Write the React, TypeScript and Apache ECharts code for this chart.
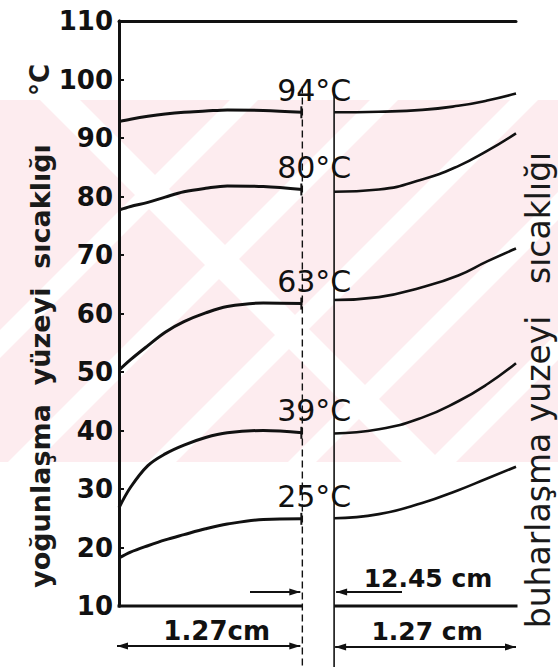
import React, { useEffect, useRef } from "react";
import * as echarts from "echarts";

// ---- data ----
const Y_MIN = 10;
const Y_MAX = 110;
const Y_STEP = 10;
const X_MAX = 2.75; // cm across the whole drawing
const WALL_LEFT = 1.27; // condensation surface (cm)
const WALL_RIGHT = 1.49; // evaporation surface (cm)

const wallLabels = ["94°C", "80°C", "63°C", "39°C", "25°C"];

const leftX = [0, 0.08, 0.2, 0.32, 0.45, 0.6, 0.75, 1.0, 1.27];
const left94 = [92.8, 93.2, 93.7, 94.1, 94.4, 94.6, 94.8, 94.7, 94.4];
const left80 = [77.7, 78.3, 79.0, 79.9, 80.8, 81.4, 81.8, 81.7, 81.2];
const left63 = [50.3, 52.1, 54.5, 56.8, 58.6, 60.1, 61.2, 61.8, 61.7];
const left39 = [26.8, 30.3, 34.0, 36.0, 37.5, 38.8, 39.6, 40.0, 39.6];
const left25 = [18.2, 19.2, 20.3, 21.3, 22.2, 23.2, 24.0, 24.8, 24.9];

const rightX = [1.49, 1.8, 2.1, 2.35, 2.55, 2.75];
const right94 = [94.4, 94.5, 94.8, 95.5, 96.4, 97.6];
const right80 = [80.8, 81.2, 82.9, 85.2, 87.8, 90.8];
const right63 = [62.3, 62.8, 64.5, 66.5, 68.9, 71.1];
const right39 = [39.5, 40.2, 42.2, 45.0, 47.9, 51.5];
const right25 = [25.0, 25.7, 27.6, 29.8, 31.8, 33.8];

const leftSeries = [left94, left80, left63, left39, left25];
const rightSeries = [right94, right80, right63, right39, right25];

const yAxisTitle = "yoğunlaşma  yüzeyi  sıcaklığı";
const yAxisUnit = "°C";
const rightTitle = "buharlaşma yuzeyi   sıcaklığı";
const widthLabelLeft = "1.27cm";
const widthLabelRight = "1.27 cm";
const lengthLabel = "12.45 cm";

const INK = "#111111";
const PINK = "#fdecef";
const FONT = "DejaVu Sans";

type Pt = [number, number];

function clipPoly(pts: Pt[], x0: number, y0: number, x1: number, y1: number): Pt[] {
  const edges: Array<[(p: Pt) => boolean, (a: Pt, b: Pt) => Pt]> = [
    [(p) => p[0] >= x0, (a, b) => { const t = (x0 - a[0]) / (b[0] - a[0]); return [x0, a[1] + t * (b[1] - a[1])]; }],
    [(p) => p[0] <= x1, (a, b) => { const t = (x1 - a[0]) / (b[0] - a[0]); return [x1, a[1] + t * (b[1] - a[1])]; }],
    [(p) => p[1] >= y0, (a, b) => { const t = (y0 - a[1]) / (b[1] - a[1]); return [a[0] + t * (b[0] - a[0]), y0]; }],
    [(p) => p[1] <= y1, (a, b) => { const t = (y1 - a[1]) / (b[1] - a[1]); return [a[0] + t * (b[0] - a[0]), y1]; }],
  ];
  let out = pts;
  for (const [inside, inter] of edges) {
    const input = out;
    out = [];
    for (let i = 0; i < input.length; i++) {
      const cur = input[i];
      const prev = input[(i + input.length - 1) % input.length];
      if (inside(cur)) {
        if (!inside(prev)) out.push(inter(prev, cur));
        out.push(cur);
      } else if (inside(prev)) {
        out.push(inter(prev, cur));
      }
    }
  }
  return out;
}

function band(c: number, w: number, dir: 1 | -1): Pt[] {
  if (dir === 1) {
    return [[c + 1000, -1000], [c - 2000, 2000], [c + w - 2000, 2000], [c + w + 1000, -1000]];
  }
  return [[c - 1000, -1000], [c + 2000, 2000], [c + w + 2000, 2000], [c + w - 1000, -1000]];
}

function arrowHead(x: number, y: number, dir: number, z = 20) {
  return {
    type: "polygon",
    z,
    shape: { points: [[x, y], [x - dir * 11, y - 3.5], [x - dir * 11, y + 3.5]] },
    style: { fill: INK },
  };
}

export default function App() {
  const ref = useRef<HTMLDivElement>(null);

  useEffect(() => {
    if (!ref.current) return;
    const chart = echarts.init(ref.current, undefined, { renderer: "svg" });

    const series: any[] = [];
    leftSeries.forEach((vals, k) => {
      series.push({
        type: "line",
        name: wallLabels[k] + " L",
        data: leftX.map((x, i) => [x, vals[i]]),
        smooth: 0.35,
        showSymbol: false,
        lineStyle: { color: INK, width: 3 },
        z: 5,
      });
    });
    rightSeries.forEach((vals, k) => {
      series.push({
        type: "line",
        name: wallLabels[k] + " R",
        data: rightX.map((x, i) => [x, vals[i]]),
        smooth: 0.5,
        showSymbol: false,
        lineStyle: { color: INK, width: 2.6 },
        z: 5,
      });
    });

    chart.setOption({
      animation: false,
      grid: { left: 119, right: 42, top: 21, bottom: 61 },
      xAxis: [
        {
          type: "value", min: 0, max: X_MAX, position: "bottom",
          axisLine: { show: false }, axisTick: { show: false }, axisLabel: { show: false }, splitLine: { show: false },
        },
        {
          type: "value", min: 0, max: X_MAX, position: "top",
          axisLine: { show: true, lineStyle: { color: INK, width: 3 } },
          axisTick: { show: false }, axisLabel: { show: false }, splitLine: { show: false },
        },
      ],
      yAxis: [
        {
          type: "value", min: Y_MIN, max: Y_MAX, interval: Y_STEP, position: "left",
          axisLine: { show: true, lineStyle: { color: INK, width: 3 } },
          axisTick: { show: true, inside: true, length: 5, lineStyle: { color: INK, width: 2 } },
          axisLabel: { color: INK, fontFamily: FONT, fontWeight: "bold", fontSize: 26, margin: 6 },
          splitLine: { show: false },
        },
        {
          type: "value", min: Y_MIN, max: Y_MAX, position: "right",
          axisLine: { show: true, lineStyle: { color: INK, width: 3 } },
          axisTick: { show: false }, axisLabel: { show: false }, splitLine: { show: false },
        },
      ],
      series,
    });

    const P = (x: number, y: number): Pt => chart.convertToPixel({ gridIndex: 0 }, [x, y]) as Pt;

    const g: any[] = [];

    // faint pink watermark of the scan
    const wmTop = 100;
    const wmBottom = 462;
    g.push({ type: "rect", z: -20, shape: { x: 0, y: wmTop, width: 558, height: wmBottom - wmTop }, style: { fill: PINK } });
    const whiteBands: Array<[number, number, 1 | -1]> = [
      [330, 28, 1], [470, 28, 1], [610, 28, 1], [750, 28, 1], [890, 28, 1],
      [-60, 40, -1],
    ];
    whiteBands.forEach(([c, w, d]) => {
      const pts = clipPoly(band(c, w, d), 0, wmTop, 558, wmBottom);
      if (pts.length > 2) g.push({ type: "polygon", z: -19, shape: { points: pts }, style: { fill: "#ffffff" } });
    });

    // bottom frame (interrupted by the wall)
    const bl0 = P(0, Y_MIN), bl1 = P(WALL_LEFT, Y_MIN);
    const br0 = P(WALL_RIGHT, Y_MIN), br1 = P(X_MAX, Y_MIN);
    g.push({ type: "line", z: 10, shape: { x1: bl0[0] - 1.5, y1: bl0[1], x2: bl1[0], y2: bl1[1] }, style: { stroke: INK, lineWidth: 3 } });
    g.push({ type: "line", z: 10, shape: { x1: br0[0], y1: br0[1], x2: br1[0] + 1.5, y2: br1[1] }, style: { stroke: INK, lineWidth: 3 } });

    // wall lines
    const wl = P(WALL_LEFT, 98.8);
    const wr = P(WALL_RIGHT, 98.8);
    g.push({ type: "line", z: 10, shape: { x1: wl[0], y1: wl[1], x2: wl[0], y2: 667 }, style: { stroke: INK, lineWidth: 1.4, lineDash: [7, 4] } });
    g.push({ type: "line", z: 10, shape: { x1: wr[0], y1: wr[1], x2: wr[0], y2: 667 }, style: { stroke: INK, lineWidth: 1.6 } });

    // small bars at the left curve ends + wall temperature labels
    const cx = (P(WALL_LEFT, 0)[0] + P(WALL_RIGHT, 0)[0]) / 2 - 4;
    leftSeries.forEach((vals, k) => {
      const e = P(WALL_LEFT, vals[vals.length - 1]);
      g.push({ type: "line", z: 11, shape: { x1: e[0] - 1, y1: e[1] - 6, x2: e[0] - 1, y2: e[1] + 6 }, style: { stroke: INK, lineWidth: 2 } });
      g.push({
        type: "text", z: 12, x: cx, y: e[1] - 22,
        style: { text: wallLabels[k], fill: INK, font: `30px ${FONT}`, align: "center", verticalAlign: "middle" },
      });
    });

    // axis titles
    g.push({
      type: "text", z: 12, x: 40, y: 366, rotation: Math.PI / 2,
      style: { text: yAxisTitle, fill: "#1a1a1a", font: `bold 27px ${FONT}`, align: "center", verticalAlign: "middle" },
    });
    g.push({
      type: "text", z: 12, x: 40, y: 80, rotation: Math.PI / 2,
      style: { text: yAxisUnit, fill: "#1a1a1a", font: `bold 26px ${FONT}`, align: "center", verticalAlign: "middle" },
    });
    g.push({
      type: "text", z: 12, x: 538, y: 390, rotation: Math.PI / 2,
      style: { text: rightTitle, fill: "#1a1a1a", font: `33px ${FONT}`, align: "center", verticalAlign: "middle" },
    });

    // 12.45 cm length marker
    const yLen = P(0, 12.4)[1];
    g.push({ type: "line", z: 11, shape: { x1: 250, y1: yLen, x2: wl[0] - 2, y2: yLen }, style: { stroke: INK, lineWidth: 2 } });
    g.push(arrowHead(wl[0] - 2, yLen, 1));
    g.push({ type: "line", z: 11, shape: { x1: wr[0] + 2, y1: yLen, x2: 402, y2: yLen }, style: { stroke: INK, lineWidth: 2 } });
    g.push(arrowHead(wr[0] + 2, yLen, -1));
    g.push({
      type: "text", z: 12, x: 428, y: yLen - 13,
      style: { text: lengthLabel, fill: INK, font: `bold 25px ${FONT}`, align: "center", verticalAlign: "middle" },
    });

    // 1.27 cm width markers under the frame
    const yDim = 646;
    g.push({ type: "line", z: 11, shape: { x1: bl0[0] - 2, y1: yDim, x2: bl1[0] - 2, y2: yDim }, style: { stroke: INK, lineWidth: 2 } });
    g.push(arrowHead(bl0[0] - 2, yDim, -1));
    g.push(arrowHead(bl1[0] - 2, yDim, 1));
    g.push({ type: "line", z: 11, shape: { x1: br0[0] + 1, y1: yDim + 1, x2: br1[0], y2: yDim + 1 }, style: { stroke: INK, lineWidth: 2 } });
    g.push(arrowHead(br0[0] + 1, yDim + 1, -1));
    g.push(arrowHead(br1[0], yDim + 1, 1));
    g.push({
      type: "text", z: 12, x: (bl0[0] + bl1[0]) / 2 + 6, y: yDim - 15,
      style: { text: widthLabelLeft, fill: INK, font: `bold 26px ${FONT}`, align: "center", verticalAlign: "middle" },
    });
    g.push({
      type: "text", z: 12, x: (br0[0] + br1[0]) / 2 + 2, y: yDim - 15,
      style: { text: widthLabelRight, fill: INK, font: `bold 25px ${FONT}`, align: "center", verticalAlign: "middle" },
    });

    chart.setOption({ graphic: g });

    return () => chart.dispose();
  }, []);

  return (
    <div
      ref={ref}
      style={{ position: "fixed", left: 0, top: 0, width: 558, height: 667, background: "#ffffff" }}
    />
  );
}
